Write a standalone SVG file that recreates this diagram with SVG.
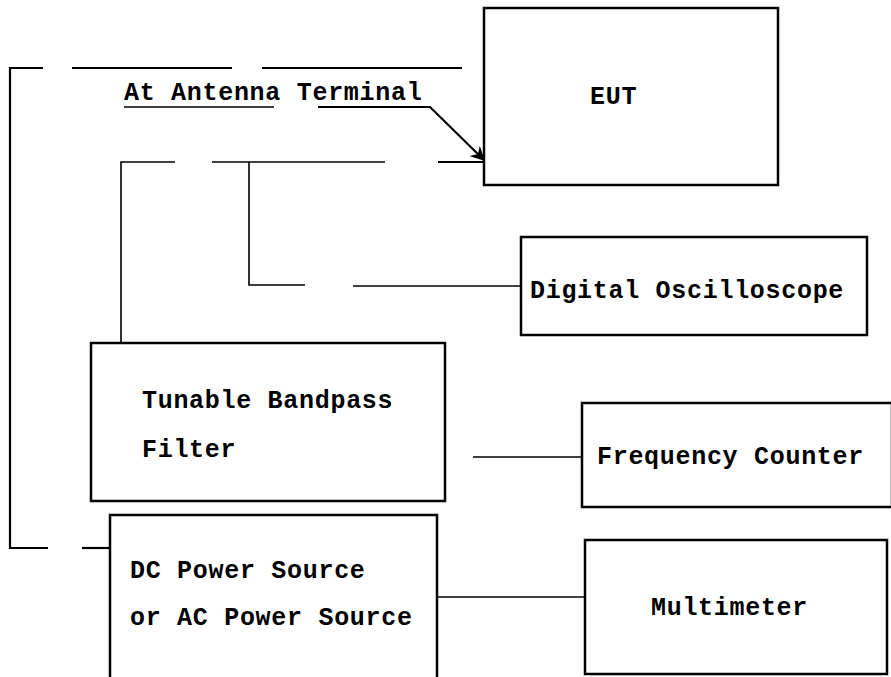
<svg xmlns="http://www.w3.org/2000/svg" width="891" height="677" viewBox="0 0 891 677">
<defs>
<style>
.box{fill:none;stroke:#000;stroke-width:2.5}
.ln{fill:none;stroke:#000;stroke-width:1.6}
.thk{fill:none;stroke:#000;stroke-width:2.2}
text{font-family:"Liberation Mono","Courier New",monospace;font-weight:bold;font-size:25px;fill:#000;letter-spacing:0.7px}
</style>
<marker id="ah" viewBox="0 0 10 10" refX="9" refY="5" markerWidth="6.5" markerHeight="6.5" orient="auto" markerUnits="strokeWidth">
<path d="M0,0 L10,5 L0,10 L3,5 z" fill="#000"/>
</marker>
</defs>
<rect width="891" height="677" fill="#fff"/>
<g id="connectors">
<path class="thk" d="M43,68 H10 V548 H48"/>
<path class="thk" d="M72,68 H232"/>
<path class="thk" d="M262,68 H462"/>
<path class="thk" d="M82,548 H110"/>
<path class="ln" d="M121,342 V162 H175"/>
<path class="ln" d="M212,162 H385"/>
<path class="thk" d="M438,162 H484"/>
<path class="ln" d="M249,162 V285 H305"/>
<path class="ln" d="M353,286 H521"/>
<path class="ln" d="M473,457 H582"/>
<path class="ln" d="M437,597 H585"/>
<path class="ln" d="M124,107 H274"/>
<path class="thk" d="M318,107 H430 L484,160" marker-end="url(#ah)"/>
</g>
<g id="label-antenna"><text x="124" y="100">At Antenna Terminal</text></g>
<g id="eut"><rect class="box" x="484" y="8" width="294" height="177"/><text x="590" y="104">EUT</text></g>
<g id="oscilloscope"><rect class="box" x="521" y="237" width="346" height="98"/><text x="530" y="298">Digital Oscilloscope</text></g>
<g id="filter"><rect class="box" x="91" y="343" width="354" height="158"/><text x="142" y="408">Tunable Bandpass</text><text x="142" y="457">Filter</text></g>
<g id="counter"><rect class="box" x="582" y="403" width="310" height="104"/><text x="597" y="464">Frequency Counter</text></g>
<g id="power"><rect class="box" x="110" y="515" width="327" height="165"/><text x="130" y="578">DC Power Source</text><text x="130" y="625">or AC Power Source</text></g>
<g id="multimeter"><rect class="box" x="585" y="540" width="302" height="134"/><text x="651" y="615">Multimeter</text></g>
</svg>
